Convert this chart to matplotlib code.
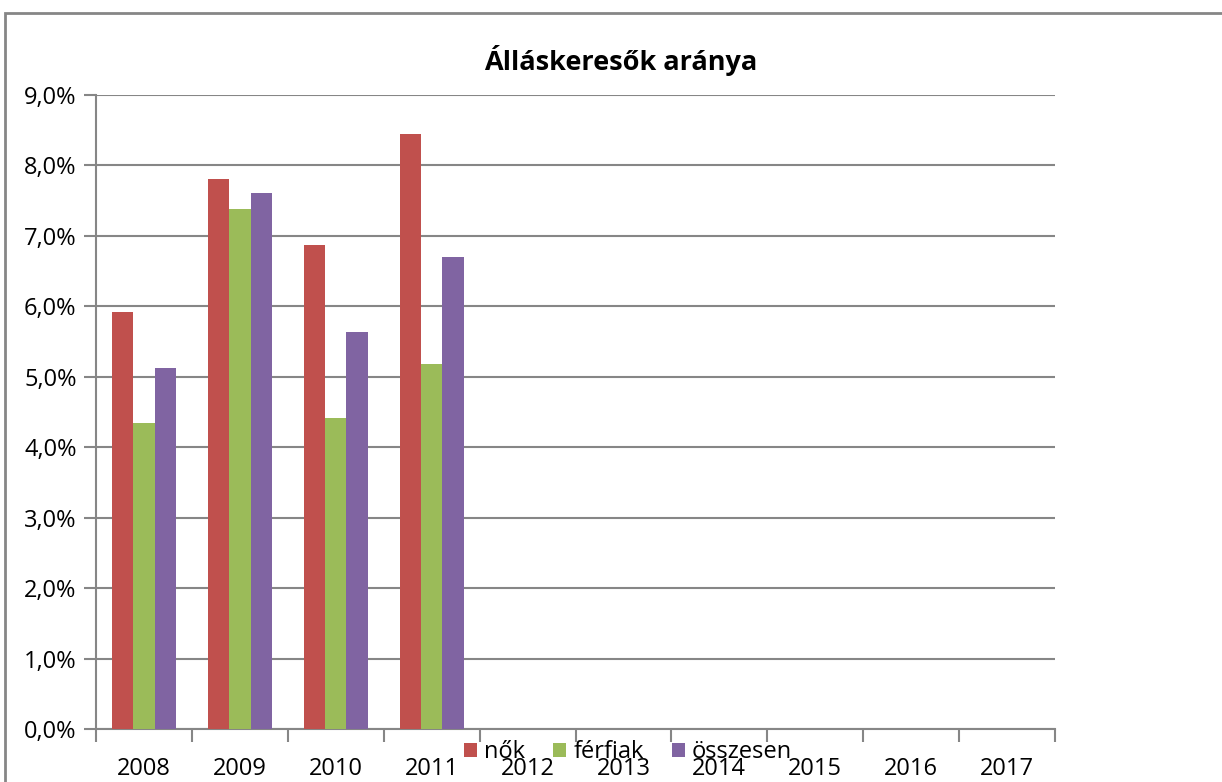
"""Álláskeresők aránya - grouped bar chart (Excel style)."""

import numpy as np
import matplotlib
matplotlib.use("Agg")
import matplotlib.pyplot as plt
from matplotlib.patches import Rectangle
from matplotlib.ticker import FuncFormatter, FixedLocator

plt.rcParams["font.family"] = ["Open Sans", "DejaVu Sans"]

YEARS = ["2008", "2009", "2010", "2011", "2012", "2013", "2014", "2015", "2016", "2017"]
NOK = [5.92, 7.81, 6.87, 8.44]        # percent
FERFIAK = [4.35, 7.38, 4.41, 5.18]
OSSZESEN = [5.12, 7.61, 5.64, 6.70]
SERIES = ["nők", "férfiak", "összesen"]
COLORS = ["#C0504D", "#9BBB59", "#8064A2"]
GRID = "#868686"

fig = plt.figure(figsize=(12.22, 7.82), dpi=100)
ax = fig.add_axes([96 / 1222, 1 - 729 / 782, (1055 - 96) / 1222, (729 - 95) / 782])

# outer chart border
fig.patches.append(Rectangle((5 / 1222, -0.1), 1.2, 1 - 13 / 782 + 0.1,
                             transform=fig.transFigure, fill=False,
                             edgecolor=GRID, linewidth=2))

bar_w = 2 / 9
for i, (vals, name, col) in enumerate(zip([NOK, FERFIAK, OSSZESEN], SERIES, COLORS)):
    x = np.arange(len(vals)) + (i - 1) * bar_w
    ax.bar(x, vals, width=bar_w, color=col, label=name, zorder=3)

ax.set_xlim(-0.5, len(YEARS) - 0.5)
ax.set_ylim(0, 9)
ax.set_yticks(np.arange(0, 10, 1))
ax.yaxis.set_major_formatter(FuncFormatter(lambda v, p: f"{v:.1f}%".replace(".", ",")))
ax.xaxis.set_major_locator(FixedLocator(np.arange(-0.5, len(YEARS), 1)))
ax.set_xticklabels([])
ax.set_xticks(np.arange(len(YEARS)), minor=True)
ax.set_xticklabels(YEARS, minor=True)
ax.tick_params(axis="x", which="minor", length=0, pad=20, labelsize=17)
ax.tick_params(axis="x", which="major", length=9, width=1.5, color=GRID, direction="out")
ax.tick_params(axis="y", length=9, width=1.5, color=GRID, labelsize=17, pad=5)

ax.grid(axis="y", color=GRID, linewidth=1.5, zorder=0)
for s in ["top", "right"]:
    ax.spines[s].set_visible(False)
for s in ["left", "bottom"]:
    ax.spines[s].set_color(GRID)
    ax.spines[s].set_linewidth(1.5)

fig.text(621 / 1222, 1 - 60 / 782, "Álláskeresők aránya", ha="center", va="center",
         fontsize=19.5, fontweight="bold")

fig.legend(loc="center", bbox_to_anchor=(628 / 1222, 1 - 752 / 782), ncol=3,
           frameon=False, fontsize=17, handlelength=0.55, handleheight=0.55,
           handletextpad=0.3, columnspacing=1.2, borderpad=0)

fig.savefig("out.png", dpi=100)
